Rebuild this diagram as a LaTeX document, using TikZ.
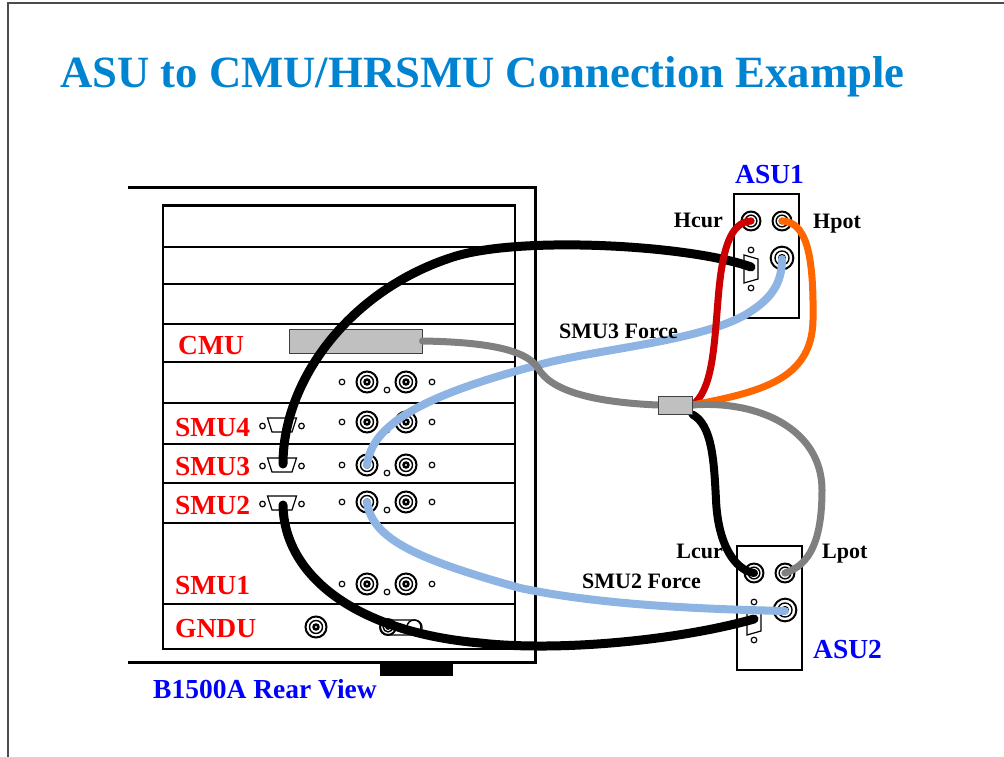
\documentclass[tikz,border=0pt]{standalone}
\usepackage{fontspec}
\setmainfont{Liberation Serif}
\definecolor{titleblue}{RGB}{0,132,209}
\definecolor{labelred}{RGB}{255,0,0}
\definecolor{labelblue}{RGB}{0,0,255}
\definecolor{cableblue}{RGB}{142,180,227}
\definecolor{cablegray}{RGB}{128,128,128}
\definecolor{cablered}{RGB}{204,0,0}
\definecolor{cableorange}{RGB}{255,102,0}
\definecolor{boxgray}{RGB}{192,192,192}
\pgfdeclarelayer{panel}
\pgfdeclarelayer{cables}
\pgfsetlayers{panel,cables,main}
\tikzset{
  % triaxial BNC-style jack
  triax/.pic={
    \draw[line width=2pt, fill=white] (0,0) circle[radius=10.5pt];
    \draw[line width=1.4pt] (0,0) circle[radius=6.5pt];
    \fill (0,0) circle[radius=3.8pt];
    \fill[white] (0,0) circle[radius=1.1pt];
  },
  pin/.pic={\draw[line width=1.2pt, fill=white] (0,0) circle[radius=2.8pt];},
  % horizontal D-sub with its two screws
  dsubh/.pic={
    \draw[line width=1.2pt, fill=white] (-14.5,-7) -- (14.5,-7) -- (10,7) -- (-10,7) -- cycle;
    \pic at (-19.5,1) {pin}; \pic at (19.5,1) {pin};
  },
  % vertical D-sub with its two screws
  dsubv/.pic={
    \draw[line width=1.2pt, fill=white] (-7,-14) -- (7,-10) -- (7,10) -- (-7,14) -- cycle;
    \pic at (0,-19) {pin}; \pic at (0,19) {pin};
  },
  % one SMU slot: force/sense jacks and guide holes
  smurow/.pic={
    \pic at (-25,0) {pin}; \pic at (65,0) {pin}; \pic at (20,8) {pin};
    \pic at (0,0) {triax}; \pic at (39,0) {triax};
    \coordinate (-force) at (0,0);
  },
  % atto sense unit
  asu/.pic={
    \draw[line width=2.2pt, fill=white] (0,0) rectangle (65,124);
    \pic[scale=0.9] at (17,27) {triax};
    \pic[scale=0.9] at (48,27) {triax};
    \pic[scale=1.08] at (48,64) {triax};
    \pic at (17,75) {dsubv};
    \coordinate (-cur) at (17,27);
    \coordinate (-pot) at (48,27);
    \coordinate (-force) at (48,65);
    \coordinate (-sense) at (17,73);
  },
  biglbl/.style={inner sep=0pt, anchor=base west, font=\bfseries\fontsize{27.5}{30}\selectfont},
  smalllbl/.style={inner sep=0pt, anchor=base west, font=\bfseries\fontsize{22}{24}\selectfont},
  wire/.style={line width=8pt, line cap=round},
  graybox/.style={draw=black!75, line width=1pt, fill=boxgray, inner sep=0pt},
}
\begin{document}
\begin{tikzpicture}[x=1pt,y=-1pt]
\useasboundingbox (0,0) rectangle (1004,757);

% slide frame
\draw[line width=1.2pt, black!70] (8,757) -- (8,3) -- (1004,3);

% title
\node[anchor=base west, inner sep=0pt, text=titleblue, font=\bfseries\fontsize{44.7}{50}\selectfont]
  (title) at (60,88) {ASU to CMU/HRSMU Connection Example};

\begin{pgfonlayer}{panel}
  % chassis outline and rear panel
  \draw[line width=3pt] (128,187) -- (535,187) -- (535,662) -- (128,662);
  \fill (380,663) rectangle (453,676);
  \draw[line width=2pt] (163,205) rectangle (515,649);
  \draw[line width=3pt] (163,205) -- (515,205);
  \foreach \yy in {247,284,324,362,403,444,483,523,604}
    \draw[line width=1.8pt] (163,\yy) -- (515,\yy);

  % CMU module connector
  \node[graybox, minimum width=133pt, minimum height=24pt] (cmu) at (355.5,341) {};

  % SMU slots
  \pic (r0) at (367,382) {smurow};
  \pic (smu4) at (367,422) {smurow};
  \pic (smu3) at (367,465) {smurow};
  \pic (smu2) at (367,502) {smurow};
  \pic (smu1) at (367,584) {smurow};
  \pic at (282,425) {dsubh};
  \pic at (282,465) {dsubh};
  \pic at (282,503) {dsubh};
  \coordinate (d3) at (283,464);
  \coordinate (d2) at (283,505);

  % GNDU
  \pic at (316,627) {triax};
  \draw[line width=1.2pt, fill=white, rounded corners=7pt] (380,620) rectangle (422,635);
  \pic[scale=0.75] at (388,627) {triax};
  \draw[line width=1.4pt, fill=white] (414,627) circle[radius=7pt];

  % ASUs
  \pic (asuA) at (734,194) {asu};
  \pic (asuB) at (737,546) {asu};
\end{pgfonlayer}

% splitter
\node[graybox, minimum width=34pt, minimum height=18pt] (split) at (675,405) {};

\begin{pgfonlayer}{cables}
  % SMU3 force to ASU1
  \draw[wire, cableblue] (smu3-force) .. controls (372,425) and (420,395) .. (550,362)
     .. controls (610,348) and (700,340) .. (745,315)
     .. controls (770,300) and (782,285) .. (asuA-force);
  % CMU to splitter
  \draw[wire, line width=7pt, cablegray] (cmu.east) .. controls (480,342) and (525,348) .. (538,368)
     .. controls (550,390) and (590,402) .. (split.west);
  % SMU3 control cable to ASU1
  \draw[wire, line width=9pt, black] (d3) .. controls (283,380) and (350,290) .. (453,257)
     .. controls (520,235.5) and (690,245) .. (asuA-sense);
  % SMU2 control cable to ASU2
  \draw[wire, line width=9pt, black] (d2) .. controls (284,575) and (355,632) .. (480,643)
     .. controls (560,652) and (680,640) .. (asuB-sense);
  % SMU2 force to ASU2
  \draw[wire, cableblue] (smu2-force) .. controls (372,540) and (420,560) .. (520,588)
     .. controls (600,605) and (700,609) .. (asuB-force);
  % splitter outputs
  \draw[wire, line width=7pt, cablered] (split.east) .. controls (712,390) and (714,350) .. (718,300)
     .. controls (722,250) and (730,222) .. (asuA-cur);
  \draw[wire, line width=7pt, cableorange] (split.east) .. controls (760,392) and (812,380) .. (813,320)
     .. controls (814,250) and (805,222) .. (asuA-pot);
  \draw[wire, line width=8pt, black] (split.south east) .. controls (712,425) and (714,460) .. (716,500)
     .. controls (718,545) and (735,570) .. (asuB-cur);
  \draw[wire, line width=7pt, cablegray] (split.east) .. controls (760,400) and (822,430) .. (822,490)
     .. controls (822,540) and (810,565) .. (asuB-pot);
\end{pgfonlayer}

% slot labels
\node[biglbl, text=labelred] (lcmu) at (178,354) {CMU};
\node[biglbl, text=labelred] (lsmu4) at (175,436) {SMU4};
\node[biglbl, text=labelred] (lsmu3) at (175,475) {SMU3};
\node[biglbl, text=labelred] (lsmu2) at (175,514) {SMU2};
\node[biglbl, text=labelred] (lsmu1) at (175,594) {SMU1};
\node[biglbl, text=labelred] (lgndu) at (175,637) {GNDU};
\node[biglbl, text=labelblue] (lrear) at (153,698) {B1500A Rear View};
\node[biglbl, text=labelblue] (lasu1) at (735,183) {ASU1};
\node[biglbl, text=labelblue] (lasu2) at (813,658) {ASU2};

% terminal and cable labels
\node[smalllbl, anchor=base east] (lhcur) at (723,227) {Hcur};
\node[smalllbl] (lhpot) at (813,228) {Hpot};
\node[smalllbl, anchor=base east] (llcur) at (723,558) {Lcur};
\node[smalllbl] (llpot) at (822,558) {Lpot};
\node[smalllbl] (lf3) at (559,338) {SMU3 Force};
\node[smalllbl] (lf2) at (582,588) {SMU2 Force};
\end{tikzpicture}
\end{document}
